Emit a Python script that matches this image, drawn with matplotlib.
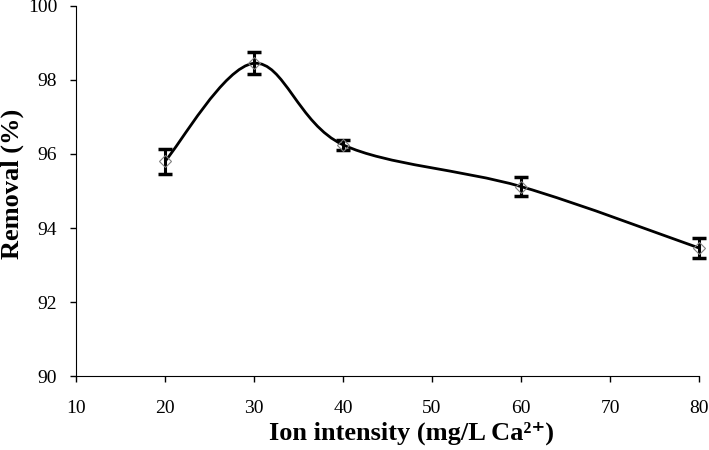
import numpy as np
import matplotlib.pyplot as plt
from matplotlib.path import Path
from matplotlib.patches import PathPatch

# data
ion = [20, 30, 40, 60, 80]
removal = [95.8, 98.45, 96.25, 95.12, 93.46]
err = [0.33, 0.3, 0.13, 0.25, 0.28]

plt.rcParams['font.family'] = ['Liberation Serif', 'DejaVu Serif']

fig = plt.figure(figsize=(7.09, 4.5), dpi=100)
ax = fig.add_axes([0.107, 0.1644, 0.879, 0.8223])

ax.set_xlim(10, 80)
ax.set_ylim(90, 100)

# Excel-like smoothed line: cubic Bezier through the points (in axes-normalised space)
w_in, h_in = 7.09 * 0.879, 4.5 * 0.8223
xs = (np.array(ion) - 10) / 70.0 * w_in
ys = (np.array(removal) - 90) / 10.0 * h_in
pts = np.column_stack([xs, ys])
verts = [tuple(pts[0])]
codes = [Path.MOVETO]
n = len(pts)
for i in range(n - 1):
    p0 = pts[i - 1] if i > 0 else pts[i]
    p1 = pts[i]
    p2 = pts[i + 1]
    p3 = pts[i + 2] if i + 2 < n else pts[i + 1]
    c1 = p1 + (p2 - p0) / 6.0
    c2 = p2 - (p3 - p1) / 6.0
    verts += [tuple(c1), tuple(c2), tuple(p2)]
    codes += [Path.CURVE4] * 3
verts = np.array(verts)
verts[:, 0] = verts[:, 0] / w_in * 70 + 10
verts[:, 1] = verts[:, 1] / h_in * 10 + 90
ax.add_patch(PathPatch(Path(verts, codes), fill=False, lw=2, color='black', zorder=2))

ax.errorbar(ion, removal, yerr=err, fmt='none', ecolor='black', elinewidth=2.2,
            capsize=5, capthick=2.5, zorder=3, clip_on=False)
ax.plot(ion, removal, linestyle='none', marker='D', markersize=6.5, clip_on=False,
        markerfacecolor='none', markeredgecolor='#7f7f7f', markeredgewidth=0.8, zorder=4)

ax.set_xticks(np.arange(10, 81, 10))
ax.set_yticks(np.arange(90, 101, 2))
ax.tick_params(direction='out', length=4.5, width=1, labelsize=14)
ax.tick_params(axis='y', pad=9)
ax.tick_params(axis='x', pad=13)
ax.spines['top'].set_visible(False)
ax.spines['right'].set_visible(False)

ax.set_xlabel('Ion intensity (mg/L Ca²⁺)', fontsize=19, fontweight='bold')
ax.set_ylabel('Removal (%)', fontsize=19, fontweight='bold')
ax.xaxis.set_label_coords(0.538, -0.122)
ax.yaxis.set_label_coords(-0.084, 0.52)

fig.savefig('out.png', dpi=100)
